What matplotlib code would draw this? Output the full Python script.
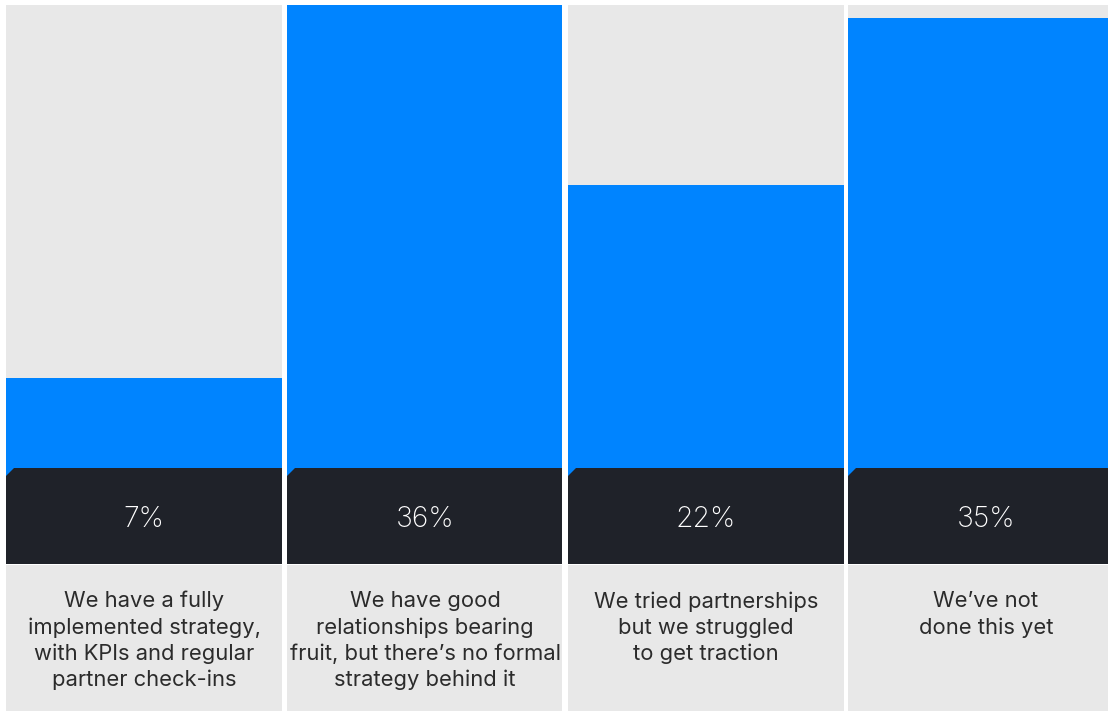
import matplotlib
matplotlib.use("Agg")
import matplotlib.pyplot as plt
from matplotlib.patches import Polygon, Rectangle

# Survey responses: share of respondents per answer
answers = [
    "We have a fully\nimplemented strategy,\nwith KPIs and regular\npartner check-ins",
    "We have good\nrelationships bearing\nfruit, but there\u2019s no formal\nstrategy behind it",
    "We tried partnerships\nbut we struggled\nto get traction",
    "We\u2019ve not\ndone this yet",
]
shares = [7, 36, 22, 35]
share_labels = ["7%", "36%", "22%", "35%"]

BLUE = "#0084ff"
DARK = "#1f2229"
GREY = "#e8e8e8"
TEXT = "#2b2b2b"

W, H = 1108, 711
fig = plt.figure(figsize=(W / 100, H / 100), dpi=100)
fig.patch.set_facecolor("white")

# Column geometry (pixels)
col_left = [6, 287, 568, 848]
col_width = [276, 275, 276, 270]
top_px, band_top, band_bot, foot_bot = 5, 468, 564, 711
first_baseline, line_step = 607.5, 26.3

# Upper panel: grey track + blue bar per answer
ax = fig.add_axes([0, 1 - band_top / H, 1, (band_top - top_px) / H])
ax.set_xlim(0, W)
ymax = max(shares)
ax.set_ylim(0, ymax)
ax.bar(col_left, [ymax] * len(shares), width=col_width, align="edge", color=GREY, linewidth=0)
ax.bar(col_left, shares, width=col_width, align="edge", color=BLUE, linewidth=0)
ax.axis("off")

# Lower panel: dark value band and answer text, in pixel units
bx = fig.add_axes([0, 0, 1, (foot_bot - band_top) / H])
bx.set_xlim(0, W)
bx.set_ylim(foot_bot, band_top)
bx.axis("off")
notch = 8
for x0, w, lab, ans in zip(col_left, col_width, share_labels, answers):
    bx.add_patch(Rectangle((x0, band_top), w, notch, color=BLUE, lw=0))
    bx.add_patch(Polygon([(x0, band_top + notch), (x0 + notch, band_top),
                          (x0 + w, band_top), (x0 + w, band_bot),
                          (x0, band_bot)], closed=True, color=DARK, lw=0))
    bx.add_patch(Rectangle((x0, band_bot + 1), w, foot_bot - band_bot, color=GREY, lw=0))
    cx = x0 + 276 / 2
    bx.text(cx, 527, lab, color="white", ha="center", va="baseline",
            fontsize=20.4, family="Inter", fontweight="light")
    # multi-line text anchors on its last baseline
    n_lines = ans.count("\n") + 1
    bx.text(cx, first_baseline + (n_lines - 1) * line_step, ans, color=TEXT,
            ha="center", va="baseline", fontsize=15.8, family="Inter",
            linespacing=1.36)

fig.savefig("out.png", dpi=100, facecolor="white")
